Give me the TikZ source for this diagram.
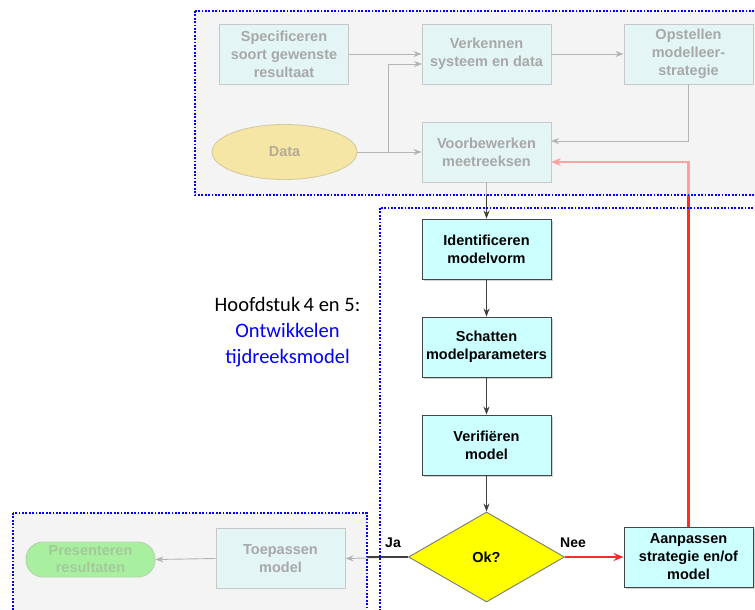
\documentclass[tikz,border=0pt]{standalone}
\usepackage{fontspec}
\setmainfont{Liberation Sans}
\newfontfamily\chapterfont{Carlito}
\usetikzlibrary{arrows.meta,shapes.geometric,shadows}

\definecolor{zoneblue}{HTML}{0000FF}
\definecolor{zonegray}{HTML}{F4F4F4}
\definecolor{activefill}{HTML}{CCFFFF}
\definecolor{activeborder}{HTML}{454545}
\definecolor{activeline}{HTML}{404040}
\definecolor{fadedfill}{HTML}{E4F5F5}
\definecolor{fadedborder}{HTML}{C8C8C8}
\definecolor{fadedtext}{HTML}{A8A8A8}
\definecolor{fadedline}{HTML}{B4B4B4}
\definecolor{datafill}{HTML}{F5E6A6}
\definecolor{databorder}{HTML}{D4CBA0}
\definecolor{datatext}{HTML}{B4AC94}
\definecolor{endfill}{HTML}{A8F0A0}
\definecolor{endborder}{HTML}{B4D4AC}
\definecolor{endtext}{HTML}{A4C89C}
\definecolor{loopred}{HTML}{FF2A2A}
\definecolor{loopfaded}{HTML}{F8A4A4}
\definecolor{decision}{HTML}{FFFF00}
\definecolor{decisionborder}{HTML}{7A7A7A}

\begin{document}
\begin{tikzpicture}[x=1pt,y=-1pt,
  boxtext/.style={font=\fontsize{14.5}{18}\selectfont\bfseries, align=center},
  stepbox/.style={rectangle, boxtext, minimum width=129pt, minimum height=60pt, inner sep=2pt, line width=0.9pt},
  activebox/.style={stepbox, fill=activefill, draw=activeborder,
    drop shadow={shadow xshift=1.6pt, shadow yshift=-1.6pt, opacity=0.35}},
  fadedbox/.style={stepbox, fill=fadedfill, draw=fadedborder, text=fadedtext},
  zone/.style={draw=zoneblue, line width=1.8pt, dash pattern=on 1.8pt off 1.6pt},
  flow/.style={draw=activeline, line width=0.9pt, -{Stealth[length=8pt,width=6pt]}},
  fadedflow/.style={draw=fadedline, line width=0.9pt, -{Stealth[length=8pt,width=6pt]}},
  loopflow/.style={draw=loopred, line width=2.2pt, -{Stealth[length=10pt,width=8pt]}},
  fadedloop/.style={draw=loopfaded, line width=2.2pt, -{Stealth[length=10pt,width=8pt]}},
  answer/.style={font=\fontsize{14}{16}\selectfont\bfseries, text=black}
]
\useasboundingbox (0,0) rectangle (755,610);
\clip (0,0) rectangle (755,610);

% shaded background of the preparation and application zones
\fill[zonegray] (195,11) rectangle (770,195);
\fill[zonegray] (13,513) rectangle (367,620);

% preparation steps
\node[fadedbox] (spec) at (284,54) {Specificeren\\soort gewenste\\resultaat};
\node[fadedbox] (verk) at (486.5,54) {Verkennen\\systeem en data};
\node[fadedbox] (opst) at (688.5,54) {Opstellen\\modelleer-\\strategie};
\node[ellipse, draw=databorder, fill=datafill, line width=0.9pt, minimum width=145pt, minimum height=55pt,
      inner sep=0pt, boxtext, text=datatext] (data) at (284.5,152) {Data};
\node[fadedbox] (voor) at (486.5,152) {Voorbewerken\\meetreeksen};

% model development steps
\node[activebox] (ident) at (486.5,249) {Identificeren\\modelvorm};
\node[activebox] (schat) at (486.5,347) {Schatten\\modelparameters};
\node[activebox] (verif) at (486.5,445) {Verifiëren\\model};
\node[diamond, draw=decisionborder, fill=decision, line width=0.9pt, minimum width=156pt, minimum height=90pt,
      aspect=1.73, inner sep=0pt, boxtext] (ok) at (486.5,557) {Ok?};
\node[activebox] (aanp) at (688.5,557) {Aanpassen\\strategie en/of\\model};

% application steps
\node[fadedbox] (toep) at (280.5,558.5) {Toepassen\\model};
\node[rectangle, rounded corners=17pt, draw=endborder, fill=endfill, line width=0.9pt,
      minimum width=129pt, minimum height=35pt, inner sep=1pt, text=endtext,
      font=\fontsize{14.5}{17}\selectfont\bfseries, align=center] (pres) at (90.5,559.5) {Presenteren\\resultaten};

% junction and zone-crossing points
\coordinate (branch) at (388,152);
\coordinate (verkin) at (422,64);
\coordinate (opstin) at (551,141);
\coordinate (loopin) at (551,162);
\coordinate (voorexit) at (486.5,195);
\coordinate (loopexit) at (688.5,195);
\coordinate (jaexit) at (367,557);

% connectors in the preparation zone
\draw[fadedflow] (spec.east) -- (verk.west);
\draw[fadedflow] (verk.east) -- (opst.west);
\draw[fadedflow] (data.east) -- (voor.west);
\draw[fadedflow] (branch) |- (verkin);
\draw[fadedflow] (opst.south) |- (opstin);

% main flow
\draw[flow] (voor.south) -- (ident.north);
\draw[draw=fadedline, line width=0.9pt] (voor.south) -- (voorexit);
\draw[flow] (ident.south) -- (schat.north);
\draw[flow] (schat.south) -- (verif.north);
\draw[flow] (verif.south) -- (ok.north);
\draw[loopflow] (ok.east) -- (aanp.west);
\draw[fadedloop] (aanp.north) |- (loopin);
\draw[draw=loopred, line width=2.2pt] (aanp.north) -- (loopexit);
\draw[fadedflow] (ok.west) -- (toep.east);
\draw[draw=activeline, line width=1.2pt] (ok.west) -- (jaexit);
\draw[fadedflow] (toep.west) -- (pres.east);

\node[answer] (ja) at (393,543) {Ja};
\node[answer] (nee) at (573,543) {Nee};

% chapter caption
\node[font=\chapterfont\fontsize{20.5}{26}\selectfont, align=center] (chapter) at (287.5,332)
  {Hoofdstuk\,4 en 5:\\\textcolor{zoneblue}{Ontwikkelen}\\\textcolor{zoneblue}{tijdreeksmodel}};

% dotted zone borders
\draw[zone] (195,11) rectangle (770,195);
\draw[zone] (380,208) rectangle (770,620);
\draw[zone] (13,513) rectangle (367,620);
\end{tikzpicture}
\end{document}
